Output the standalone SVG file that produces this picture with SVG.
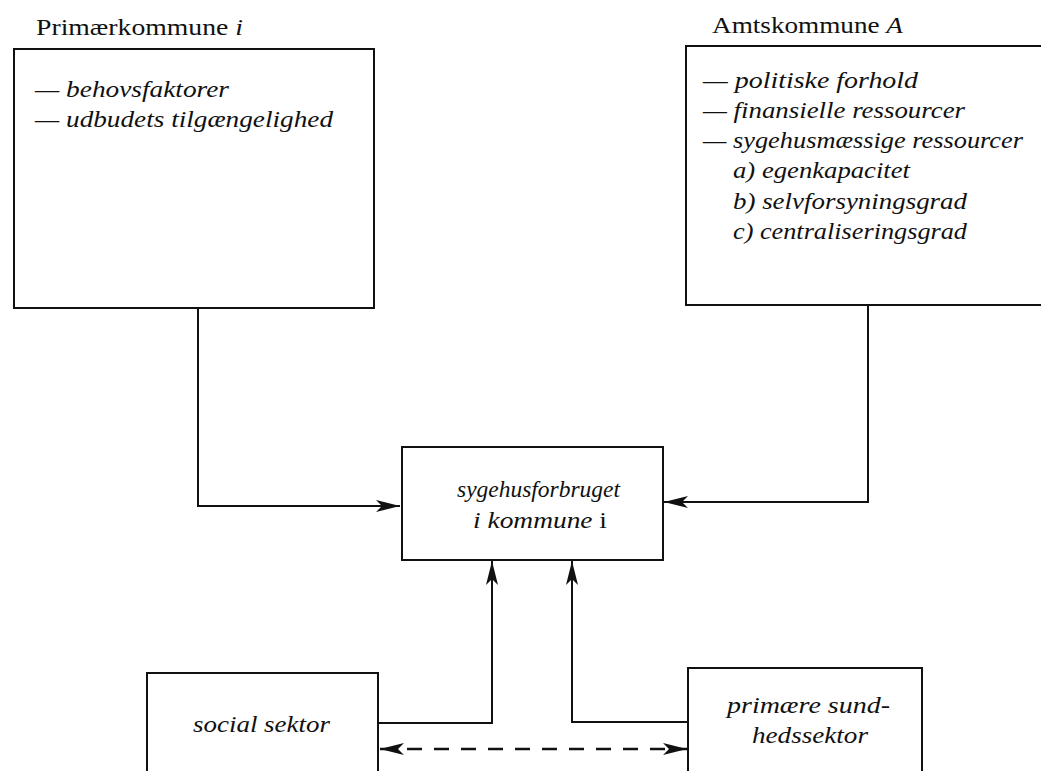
<svg xmlns="http://www.w3.org/2000/svg" width="1041" height="771" viewBox="0 0 1041 771">
<style>
.box{fill:#fff;stroke:#111;stroke-width:2}
.ln{fill:none;stroke:#111;stroke-width:2}
.dash{fill:none;stroke:#111;stroke-width:2.5;stroke-dasharray:15 12}
text{font-family:"Liberation Serif","Times New Roman",serif;font-size:24px;fill:#111}
.it{font-style:italic}
</style>
<defs>
<marker id="ah" viewBox="0 0 26 14" refX="25" refY="7" markerWidth="26" markerHeight="14" markerUnits="userSpaceOnUse" orient="auto-start-reverse">
<path d="M25,7 L1,1 L7,7 L1,13 Z" fill="#111"/>
</marker>
</defs>
<rect width="1041" height="771" fill="#fff"/>
<g id="connectors">
<path class="ln" d="M198,308 V506 H400" marker-end="url(#ah)"/>
<path class="ln" d="M868,305 V502 H664" marker-end="url(#ah)"/>
<path class="ln" d="M378,723 H492 V561" marker-end="url(#ah)"/>
<path class="ln" d="M688,722 H572 V561" marker-end="url(#ah)"/>
<path class="dash" d="M380,749 H687" marker-start="url(#ah)" marker-end="url(#ah)"/>
</g>
<g id="primaerkommune">
<text x="36" y="35" textLength="207" lengthAdjust="spacingAndGlyphs">Primærkommune <tspan class="it">i</tspan></text>
<rect class="box" x="14" y="49" width="360" height="259"/>
<text class="it" x="35" y="97" textLength="194" lengthAdjust="spacingAndGlyphs">— behovsfaktorer</text>
<text class="it" x="35" y="127" textLength="298" lengthAdjust="spacingAndGlyphs">— udbudets tilgængelighed</text>
</g>
<g id="amtskommune">
<text x="712" y="33" textLength="191" lengthAdjust="spacingAndGlyphs">Amtskommune <tspan class="it">A</tspan></text>
<rect class="box" x="686" y="46" width="380" height="259"/>
<text class="it" x="703" y="88" textLength="215" lengthAdjust="spacingAndGlyphs">— politiske forhold</text>
<text class="it" x="703" y="118" textLength="262" lengthAdjust="spacingAndGlyphs">— finansielle ressourcer</text>
<text class="it" x="703" y="148" textLength="320" lengthAdjust="spacingAndGlyphs">— sygehusmæssige ressourcer</text>
<text class="it" x="733" y="178" textLength="177" lengthAdjust="spacingAndGlyphs">a) egenkapacitet</text>
<text class="it" x="733" y="209" textLength="234" lengthAdjust="spacingAndGlyphs">b) selvforsyningsgrad</text>
<text class="it" x="733" y="239" textLength="234" lengthAdjust="spacingAndGlyphs">c) centraliseringsgrad</text>
</g>
<g id="sygehusforbruget">
<rect class="box" x="402" y="447" width="261" height="113"/>
<text class="it" x="457" y="497" textLength="163" lengthAdjust="spacingAndGlyphs">sygehusforbruget</text>
<text x="473" y="528" textLength="134" lengthAdjust="spacingAndGlyphs"><tspan class="it">i kommune</tspan> i</text>
</g>
<g id="social">
<rect class="box" x="147" y="673" width="231" height="110"/>
<text class="it" x="193" y="732" textLength="137" lengthAdjust="spacingAndGlyphs">social sektor</text>
</g>
<g id="primaere">
<rect class="box" x="688" y="668" width="234" height="110"/>
<text class="it" x="727" y="713" textLength="163" lengthAdjust="spacingAndGlyphs">primære sund-</text>
<text class="it" x="752" y="743" textLength="116" lengthAdjust="spacingAndGlyphs">hedssektor</text>
</g>
</svg>
